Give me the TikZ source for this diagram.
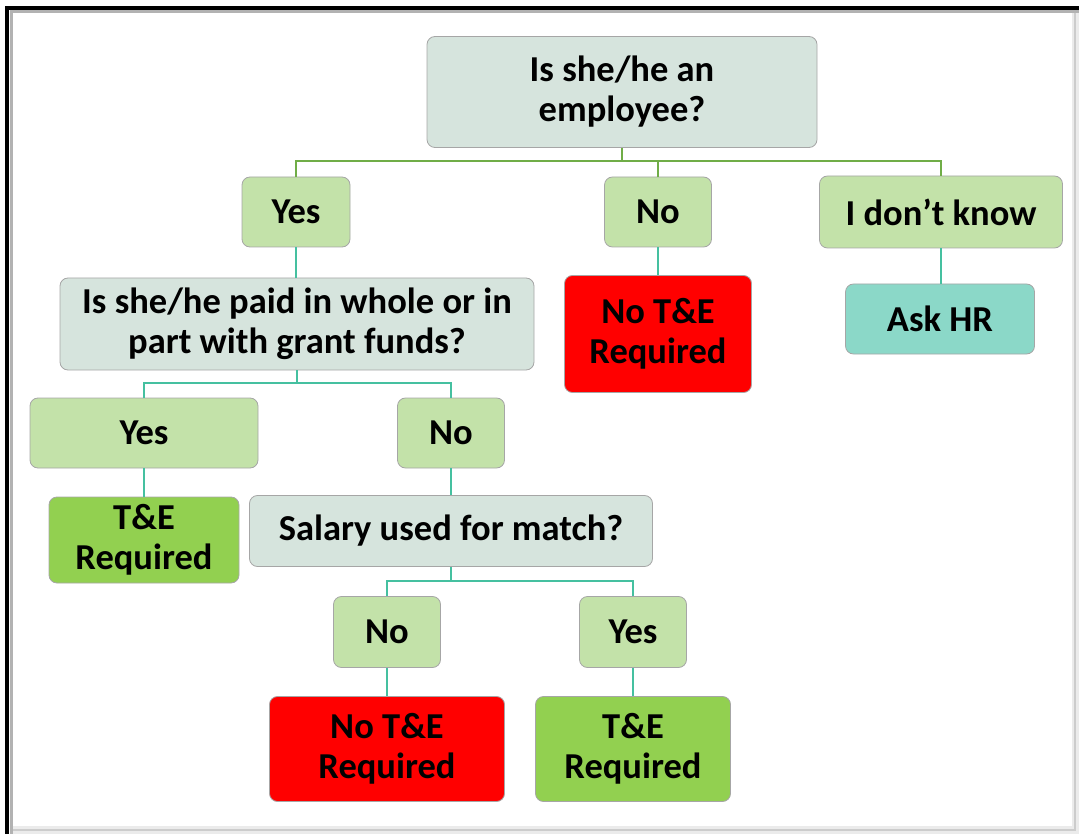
\documentclass[tikz,border=0pt]{standalone}
\usepackage{fontspec}
\setmainfont{Carlito}
\begin{document}
\begin{tikzpicture}[x=1pt,y=-1pt,
  base/.style={rounded corners=8pt, draw=black!35, line width=0.8pt, align=center, inner sep=0pt,
    font=\bfseries\fontsize{36.5}{40}\selectfont, text=black},
  qbox/.style={base, fill=qfill},
  ansbox/.style={base, fill=ansfill},
  redbox/.style={base, fill=red},
  grnbox/.style={base, fill=tegreen},
  hrbox/.style={base, fill=hrfill},
  topline/.style={draw=lineA, line width=2.8pt},
  subline/.style={draw=lineB, line width=2.8pt}]
\definecolor{qfill}{HTML}{D6E4DD}
\definecolor{ansfill}{HTML}{C3E2A9}
\definecolor{tegreen}{HTML}{92D050}
\definecolor{hrfill}{HTML}{8BD8C8}
\definecolor{lineA}{HTML}{70AD47}
\definecolor{lineB}{HTML}{45C0A0}
\useasboundingbox (0,0) rectangle (1079,834);
% frame
\fill[black!8] (1072,12) rectangle (1079,834);
\fill[black!8] (10,826) rectangle (1079,834);
\draw[black!20, line width=2pt] (1075,12) -- (1075,830) -- (10,830);
\draw[black!30, line width=3pt] (11,834) -- (11,12) -- (1079,12);
\draw[black, line width=3.5pt] (7,834) -- (7,8) -- (1079,8);
% nodes
\node[qbox, minimum width=390pt, minimum height=111pt] (root) at (622,92) {Is she/he an\\employee?};
\node[ansbox, minimum width=108pt, minimum height=70pt] (yes1) at (296,212) {Yes};
\node[ansbox, minimum width=107pt, minimum height=70pt] (no1) at (658,212) {No};
\node[ansbox, minimum width=243pt, minimum height=72pt] (idk) at (941,212) {I don’t know};
\node[qbox, minimum width=474pt, minimum height=92pt] (q2) at (297,324) {Is she/he paid in whole or in\\part with grant funds?};
\node[redbox, minimum width=187pt, minimum height=117pt] (note1) at (658,334) {No T\&E\\Required};
\node[hrbox, minimum width=189pt, minimum height=70pt] (askhr) at (940,319) {Ask HR};
\node[ansbox, minimum width=228pt, minimum height=70pt] (yes2) at (144,433) {Yes};
\node[ansbox, minimum width=107pt, minimum height=70pt] (no2) at (451,433) {No};
\node[grnbox, minimum width=190pt, minimum height=86pt] (te1) at (144,540) {T\&E\\Required};
\node[qbox, minimum width=403pt, minimum height=71pt] (q3) at (451,531) {Salary used for match?};
\node[ansbox, minimum width=107pt, minimum height=71pt] (no3) at (387,632) {No};
\node[ansbox, minimum width=107pt, minimum height=71pt] (yes3) at (633,632) {Yes};
\node[redbox, minimum width=235pt, minimum height=105pt] (note2) at (387,749) {No T\&E\\Required};
\node[grnbox, minimum width=195pt, minimum height=105pt] (te2) at (633,749) {T\&E\\Required};
% connectors
\coordinate (j1) at (622,161);
\draw[topline] (root.south) -- (j1);
\draw[topline] (yes1.north) |- (j1) -| (idk.north);
\draw[topline] (no1.north) -- (no1.north |- j1);
\draw[subline] (yes1.south) -- (q2.north -| yes1.south);
\draw[subline] (no1.south) -- (note1.north);
\draw[subline] (idk.south) -- (askhr.north -| idk.south);
\coordinate (j2) at (297,383);
\draw[subline] (q2.south) -- (j2);
\draw[subline] (yes2.north) |- (j2) -| (no2.north);
\draw[subline] (yes2.south) -- (te1.north);
\draw[subline] (no2.south) -- (q3.north -| no2.south);
\coordinate (j3) at (451,581);
\draw[subline] (q3.south) -- (j3);
\draw[subline] (no3.north) |- (j3) -| (yes3.north);
\draw[subline] (no3.south) -- (note2.north);
\draw[subline] (yes3.south) -- (te2.north);
\end{tikzpicture}
\end{document}
